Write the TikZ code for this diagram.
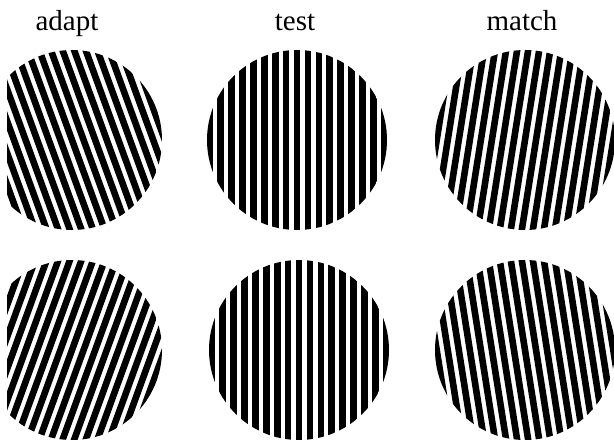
\documentclass[tikz,border=0pt]{standalone}
\usepackage{fontspec}
\setmainfont{Liberation Serif}

% one circular grating: centre x, centre y, tilt
\newcommand{\grating}[3]{%
  \begin{scope}
    \clip (#1,#2) circle (90pt);
    \begin{scope}[shift={(#1,#2)}, rotate=#3]
      \foreach \k in {-10,...,10} {\fill[black] ({\k*10.9-3.3},-100) rectangle ({\k*10.9+3.3},100);}
    \end{scope}
  \end{scope}}

\begin{document}
\begin{tikzpicture}[x=1pt, y=-1pt, title/.style={font=\fontsize{29}{32}\selectfont, anchor=base, inner sep=0pt}]
	\useasboundingbox (0,0) rectangle (614,444);
	\clip (7,0) rectangle (614,444);
	% column titles
	\node[title] (adapt) at (67,31) {adapt};
	\node[title] (test) at (295,31) {test};
	\node[title] (match) at (522,31) {match};
	% top row
	\grating{72}{140}{20}
	\grating{297}{140}{0}
	\grating{525}{140}{-9}
	% bottom row
	\grating{72}{350}{-20}
	\grating{299}{350}{0}
	\grating{525}{350}{9}
\end{tikzpicture}
\end{document}
